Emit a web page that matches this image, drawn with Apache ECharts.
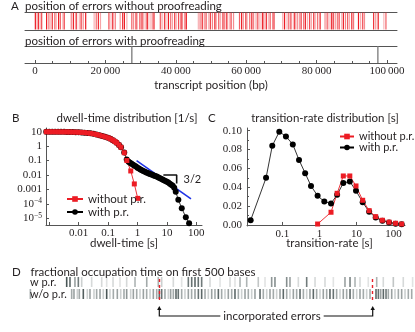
<!DOCTYPE html>
<html><head><meta charset="utf-8">
<script src="https://cdn.jsdelivr.net/npm/echarts@6/dist/echarts.min.js"></script>
<style>html,body{margin:0;padding:0;background:#fff}#c{width:415px;height:332px}</style>
</head><body><div id="c"></div>
<script>
// ---------- DATA ----------
// Panel A: error positions (kbp) without proofreading, and their shade (opacity)
const errPosWithout = [0.1,0.6,1.0,1.5,1.9,3.3,3.9,4.3,4.9,5.6,6.0,6.7,7.2,7.9,8.3,10.3,10.9,11.5,11.8,12.6,13.1,13.7,14.4,16.8,17.4,18.0,18.6,21.0,21.6,22.1,22.8,24.2,24.9,25.4,26.1,27.5,28.0,28.7,29.1,29.8,30.4,30.9,31.6,32.0,32.7,33.3,33.8,35.6,36.1,36.8,37.2,37.9,38.5,39.0,39.7,40.2,40.8,41.5,41.9,42.6,43.0,46.4,46.9,47.5,48.1,48.6,49.3,49.8,50.4,51.1,51.5,52.2,52.7,53.4,53.9,54.5,55.2,55.7,56.4,58.1,58.7,59.2,59.9,60.3,61.0,61.6,62.1,62.8,63.3,63.9,64.6,65.0,65.7,66.3,66.8,67.5,67.9,70.4,70.9,71.6,72.1,72.7,73.4,73.8,74.5,75.1,75.6,76.3,76.8,77.4,78.0,78.5,79.2,79.7,80.3,81.0,82.4,83.0,83.5,84.2,84.7,85.3,85.9,86.4,87.1,87.6,88.2,88.8,89.3,90.0,90.5,91.9,92.5,93.1,93.6,96.2,96.8,97.5,99.1,99.7];
const errShadeWithout = [1,.45,.9,.3,.8,1,.5,.35,.95,.6,.4,1,.7,.3,.85,.55,1,.4,.75,.3,.9,.5,1,.35,.65,.95,.4,.8,.3,1,.6,.45,.9,1,.35,.7,.5,.95,.3,.8,1,.4,.65,.9,.3,.55,1,.75,.4,.85,.35,1,.6,.45,.9,.3,.8,1,.5,.7,.95,.35,.6,1,.45,.8,.3,.9,.55,1,.4,.75,.35,.95,.6,1,.3,.85,.5,.7,1,.45,.9,.3,.65,1,.55,.4,.8,.35,.95,.6,1,.3,.75,.5,.9,.4,1,.35,.7,.85,.3,1,.55,.45,.9,.6,1,.35,.8,.4,.95,.3,.65,1,.5,.75,.35,.9,1,.45,.6,.85,.3,1,.55,.7,.4,.95,.6,1,.35,.8,.5,.9,.45,1,.3,.7];
const errPosWith = [27.5, 97.4];
const aMajorTicks = [0,20000,40000,60000,80000,100000];
const aMinorTicks = [5000,10000,15000,25000,30000,35000,45000,50000,55000,65000,70000,75000,85000,90000,95000];

// Panel B: dwell-time distribution
const dwellRedX = [0.00079,0.001,0.00126,0.00158,0.002,0.0025,0.0032,0.004,0.005,0.0063,0.0079,0.01,0.0126,0.0158,0.02,0.025,0.032,0.04,0.05,0.063,0.079,0.1,0.12,0.145,0.17,0.195,0.235,0.275,0.355,0.435,0.59,0.78,1.02];
const dwellRedY = [9.8,9.8,9.8,9.8,9.7,9.7,9.7,9.6,9.5,9.4,9.3,9.1,8.9,8.6,8.2,7.7,7.1,6.4,5.7,5.0,4.4,3.8,3.2,2.6,2.1,1.7,1.2,0.83,0.35,0.1,0.019,0.0024,0.00024];
const dwellBlackX = [0.00079,0.001,0.00126,0.00158,0.002,0.0025,0.0032,0.004,0.005,0.0063,0.0079,0.01,0.0126,0.0158,0.02,0.025,0.032,0.04,0.05,0.063,0.079,0.1,0.12,0.145,0.17,0.195,0.235,0.275,0.355,0.43,0.5,0.56,0.63,0.71,0.79,0.89,1,1.12,1.26,1.41,1.58,1.78,2.0,2.24,2.5,2.8,3.16,3.55,4.0,4.5,5.0,5.6,6.3,7.1,7.9,8.9,10,11.2,12.6,14.1,15.8,17.8,20,24.5,32,44,57];
const dwellBlackY = [9.8,9.8,9.8,9.8,9.7,9.7,9.7,9.6,9.5,9.4,9.3,9.1,8.9,8.6,8.2,7.7,7.1,6.4,5.7,5.0,4.4,3.8,3.2,2.6,2.1,1.7,1.2,0.83,0.36,0.12,0.083,0.07,0.06,0.051,0.044,0.038,0.032,0.028,0.024,0.021,0.0186,0.0166,0.0148,0.0135,0.0123,0.0112,0.0102,0.0093,0.0085,0.0077,0.0069,0.0062,0.0055,0.0049,0.0044,0.0039,0.0034,0.003,0.0025,0.0021,0.0018,0.0013,0.0007,0.00019,0.00005,0.000012,0.0000045];
const fitLineX = [0.93, 66];
const fitLineY = [0.1, 0.00022];
const slopeMarkX = [7.6, 21.5, 21.5];
const slopeMarkY = [0.01, 0.01, 0.0026];

// Panel C: transition-rate distribution
const rateBlackX = [0.0138,0.036,0.053,0.082,0.124,0.19,0.28,0.41,0.59,0.89,1.35,2.05,3.0,4.4,6.6,9.7,14.7,22,33,50,76,114,166];
const rateBlackY = [0.005,0.05,0.084,0.099,0.094,0.0855,0.069,0.055,0.0414,0.031,0.0248,0.0228,0.032,0.0445,0.046,0.0364,0.024,0.014,0.0078,0.0045,0.0025,0.0014,0.0008];
const rateRedX = [0.89,2.05,3.0,4.4,6.6,9.7,14.7,22,33,50,76,114,166];
const rateRedY = [0.001,0.0135,0.0336,0.052,0.052,0.0414,0.0262,0.0152,0.0088,0.005,0.003,0.0018,0.001];
const rateYTicks = [0,0.02,0.04,0.06,0.08,0.10];
const rateYMinor = [0.01,0.03,0.05,0.07,0.09];

// Panel D: occupation stripes [base, intensity]
const rows = ['w/o p.r.', 'w p.r.'];
const stripesWith = [[47.9,0.9],[52.2,0.8],[58.7,0.5],[63.1,0.7],[67.5,0.25],[80.5,0.2],[93.6,0.2],[100.1,0.15],[108.4,0.2],[117.5,0.15],[126.2,0.2],[137.1,0.4],[152.4,0.45],[167.5,0.4],[171.9,0.25],[187.1,0.2],[198.0,0.15],[206.7,0.7],[211.1,0.75],[215.4,0.8],[219.7,0.75],[224.1,0.7],[235.0,0.2],[248.1,0.15],[261.1,0.2],[267.6,0.15],[274.2,0.4],[282.9,0.4],[298.0,0.3],[306.8,0.15],[315.5,0.55],[319.8,0.6],[335.1,0.6],[339.4,0.5],[350.3,0.2],[361.2,0.7],[372.1,0.2],[385.1,0.2],[396.0,0.15],[411.2,0.5],[417.8,0.65],[424.3,0.4],[430.8,0.2],[441.6,0.15],[452.6,0.4],[461.2,0.2],[474.3,0.3],[487.3,0.2],[499.5,0.15]];
const stripesWithout = [[0.5,0.45],[54.4,0.45],[57.4,0.5],[61.8,0.25],[64.4,0.45],[69.6,0.85],[74.8,0.25],[78.3,0.5],[83.5,0.25],[87.0,0.45],[91.4,0.5],[95.7,0.25],[100.1,0.9],[104.4,0.25],[108.8,0.45],[114.0,0.5],[118.4,0.25],[122.7,0.45],[126.2,0.55],[131.4,0.25],[134.9,0.5],[139.3,0.45],[143.6,0.25],[148.0,0.5],[152.3,0.45],[156.7,0.25],[161.0,0.5],[165.4,0.45],[168.8,0.8],[171.9,0.75],[176.2,0.45],[180.6,0.25],[183.6,0.5],[187.1,0.45],[190.6,0.8],[193.6,0.75],[198.0,0.45],[202.3,0.25],[206.7,0.5],[211.0,0.45],[215.4,0.5],[219.8,0.75],[224.1,0.8],[228.5,0.45],[232.8,0.25],[237.2,0.5],[241.5,0.45],[245.9,0.8],[250.2,0.45],[254.6,0.25],[258.9,0.5],[263.3,0.45],[267.6,0.8],[272.0,0.45],[276.3,0.25],[280.7,0.5],[285.0,0.45],[289.4,0.25],[293.7,0.5],[300.3,0.8],[304.6,0.45],[309.0,0.25],[313.3,0.5],[317.7,0.45],[322.0,0.25],[326.4,0.5],[330.7,0.8],[335.1,0.45],[339.4,0.25],[343.8,0.5],[348.1,0.45],[352.5,0.8],[356.9,0.45],[361.2,0.25],[365.5,0.5],[369.9,0.8],[374.2,0.45],[378.6,0.25],[382.9,0.5],[387.3,0.45],[391.6,0.8],[396.0,0.75],[400.3,0.45],[404.7,0.25],[409.0,0.5],[413.4,0.45],[417.8,0.8],[422.1,0.45],[426.5,0.25],[430.8,0.5],[435.2,0.45],[439.5,0.25],[443.9,0.45],[451.7,0.8],[454.8,0.75],[457.8,0.5],[461.3,0.8],[464.8,0.7],[467.8,0.45],[472.2,0.5],[476.5,0.25],[480.9,0.45],[485.2,0.5],[489.6,0.25],[493.9,0.45],[498.3,0.45]];
const incorporatedErrors = [168.8, 447.4];

// ---------- CHART ----------
const SANS = 'Lato, "Open Sans", sans-serif';
const SERIF = '"Liberation Serif", "DejaVu Serif", serif';
const INK = '#231f20';
const AXC = '#555';
const RED = '#ec1c24';
const zip = (a, b) => a.map((v, i) => [v, b[i]]);

const chart = echarts.init(document.getElementById('c'), null, {renderer: 'canvas'});

function T(text, x, y, align, size, extra) {
  return {type: 'text', silent: true, z: 100,
    style: Object.assign({text, x, y, fill: INK, font: (size || 11.5) + 'px ' + SANS,
      textAlign: align || 'left', textVerticalAlign: 'middle', align: align || 'left', verticalAlign: 'middle'}, extra || {})};
}
const lineOnly = (grid, pos, min, max) => ({gridIndex: grid, type: 'value', min, max, position: pos,
  axisLine: {show: true, lineStyle: {color: AXC, width: 1}}, axisTick: {show: false}, axisLabel: {show: false}, splitLine: {show: false}});
const AMIN = -2841, AMAX = 102841;
const logFmt = v => { const e = Math.round(Math.log10(v));
  if (e >= -3) return ['0.001','0.01','0.1','1','10','100'][e + 3];
  return '10{s|\u2212' + (-e) + '}'; };
const stripeColor = p => 'rgba(28,44,44,' + Math.min(1, p.value[2] * 1.12) + ')';

const graphics = [
  T('A', 11, 6.5), T('position of errors without proofreading', 25, 6),
  T('position of errors with proofreading', 25, 41),
  T('transcript position (bp)', 211, 85, 'center'),
  T('B', 12, 118), T('dwell-time distribution [1/s]', 127, 118, 'center'),
  T('C', 208, 118), T('transition-rate distribution [s]', 325, 118, 'center'),
  T('dwell-time [s]', 124, 243.5, 'center'),
  T('transition-rate [s]', 329.5, 243.5, 'center'),
  T('3/2', 183.5, 179, 'left', 11),
  T('D', 12, 272.5), T('fractional occupation time on first 500 bases', 30.5, 272.5)
];

const option = {
  animation: false,
  textStyle: {fontFamily: SANS},
  grid: [
    {left: 25, top: 12, width: 372, height: 18},
    {left: 25, top: 46, width: 372, height: 17},
    {left: 46, top: 128, width: 156, height: 97},
    {left: 247, top: 128, width: 158, height: 98},
    {left: 30, top: 276, width: 383, height: 24}
  ],
  xAxis: [
    lineOnly(0, 'bottom', AMIN, AMAX),
    lineOnly(0, 'top', AMIN, AMAX),
    {gridIndex: 1, type: 'value', min: AMIN, max: AMAX, position: 'bottom',
      axisLine: {lineStyle: {color: AXC}}, splitLine: {show: false},
      axisTick: {customValues: aMajorTicks, inside: true, length: 3, lineStyle: {color: AXC}},
      axisLabel: {customValues: aMajorTicks, margin: 3, fontFamily: SERIF, fontSize: 11, color: INK,
        formatter: v => v === 0 ? '0' : (v / 1000) + '\u2009000'}},
    {gridIndex: 1, type: 'value', min: AMIN, max: AMAX, position: 'bottom',
      axisLine: {show: false}, splitLine: {show: false}, axisLabel: {show: false},
      axisTick: {customValues: aMinorTicks, inside: true, length: 2, lineStyle: {color: AXC}}},
    lineOnly(1, 'top', AMIN, AMAX),
    {gridIndex: 2, type: 'log', logBase: 10, min: 0.000773, max: 156.3, position: 'bottom',
      axisLine: {lineStyle: {color: AXC}}, splitLine: {show: false},
      axisTick: {inside: true, length: 3, lineStyle: {color: AXC}},
      axisLabel: {margin: 3, fontFamily: SERIF, fontSize: 11, color: INK, showMinLabel: false, showMaxLabel: false,
        formatter: v => { const e = Math.round(Math.log10(v)); return e <= -3 ? '' : logFmt(v); }}},
    {gridIndex: 3, type: 'log', logBase: 10, min: 0.011, max: 204.6, position: 'bottom',
      axisLine: {lineStyle: {color: AXC}}, splitLine: {show: false},
      axisTick: {inside: true, length: 3, lineStyle: {color: AXC}},
      axisLabel: {margin: 3, fontFamily: SERIF, fontSize: 11, color: INK, showMinLabel: false, showMaxLabel: false,
        formatter: logFmt}},
    {gridIndex: 4, type: 'value', min: 0, max: 500, show: false}
  ],
  yAxis: [
    {gridIndex: 0, type: 'value', min: 0, max: 1, show: false},
    {gridIndex: 1, type: 'value', min: 0, max: 1, show: false},
    {gridIndex: 2, type: 'log', logBase: 10, min: 0.00000342, max: 18.0,
      axisLine: {show: true, lineStyle: {color: AXC}}, splitLine: {show: false},
      axisTick: {show: true, inside: true, length: 3, lineStyle: {color: AXC}},
      axisLabel: {margin: 4, fontFamily: SERIF, fontSize: 11, color: INK, showMinLabel: false, showMaxLabel: false,
        formatter: logFmt, rich: {s: {fontFamily: SERIF, fontSize: 7.5, verticalAlign: 'top', padding: [0, 0, 5, 0]}}}},
    {gridIndex: 3, type: 'value', min: -0.0011, max: 0.1029,
      axisLine: {show: true, lineStyle: {color: AXC}}, splitLine: {show: false},
      axisTick: {show: true, customValues: rateYTicks, inside: true, length: 3, lineStyle: {color: AXC}},
      axisLabel: {customValues: rateYTicks, margin: 5, fontFamily: SERIF, fontSize: 11, color: INK,
        formatter: v => v.toFixed(2)}},
    {gridIndex: 3, type: 'value', min: -0.0011, max: 0.1029, position: 'left',
      axisLine: {show: false}, splitLine: {show: false}, axisLabel: {show: false},
      axisTick: {show: true, customValues: rateYMinor, inside: true, length: 2, lineStyle: {color: AXC}}},
    {gridIndex: 4, type: 'category', data: rows, z: 10,
      axisLine: {show: false}, axisTick: {show: false}, splitLine: {show: false},
      axisLabel: {interval: 0, inside: true, margin: 0, fontFamily: SANS, fontSize: 11, color: INK, align: 'left'}}
  ],
  legend: [
    {left: 61, top: 188, orient: 'vertical', itemWidth: 16, itemHeight: 7, itemGap: 1,
      data: ['without p.r.', 'with p.r.'], textStyle: {fontFamily: SANS, fontSize: 11.5, color: INK}},
    {left: 334, top: 126, orient: 'vertical', itemWidth: 14, itemHeight: 7, itemGap: 0,
      data: ['without p.r.', 'with p.r.'], textStyle: {fontFamily: SANS, fontSize: 11, color: INK}}
  ],
  series: [
    {type: 'scatter', xAxisIndex: 0, yAxisIndex: 0, silent: true, symbol: 'rect', symbolSize: [1.2, 17],
      itemStyle: {color: RED},
      data: errPosWithout.map((p, i) => ({value: [p * 1000, 0.5], itemStyle: {opacity: errShadeWithout[i]}}))},
    {type: 'scatter', xAxisIndex: 2, yAxisIndex: 1, silent: true, symbol: 'rect', symbolSize: [1.6, 17],
      itemStyle: {color: '#777'}, data: errPosWith.map(p => [p * 1000, 0.5])},
    {name: 'with p.r.', type: 'line', xAxisIndex: 5, yAxisIndex: 2, data: zip(dwellBlackX, dwellBlackY),
      symbol: 'circle', symbolSize: 6, itemStyle: {color: '#000'}, lineStyle: {color: '#000', width: 0.8}},
    {name: 'without p.r.', type: 'line', xAxisIndex: 5, yAxisIndex: 2, data: zip(dwellRedX, dwellRedY),
      symbol: 'rect', symbolSize: 5, itemStyle: {color: RED}, lineStyle: {color: RED, width: 0.9}},
    {type: 'line', xAxisIndex: 5, yAxisIndex: 2, data: zip(fitLineX, fitLineY), symbol: 'none', silent: true,
      lineStyle: {color: '#1f33e6', width: 1.6}},
    {type: 'line', xAxisIndex: 5, yAxisIndex: 2, data: zip(slopeMarkX, slopeMarkY), symbol: 'none', silent: true,
      lineStyle: {color: '#111', width: 1.6}},
    {name: 'with p.r.', type: 'line', xAxisIndex: 6, yAxisIndex: 3, data: zip(rateBlackX, rateBlackY),
      symbol: 'circle', symbolSize: 6, itemStyle: {color: '#000'}, lineStyle: {color: '#000', width: 0.8}},
    {name: 'without p.r.', type: 'line', xAxisIndex: 6, yAxisIndex: 3, data: zip(rateRedX, rateRedY),
      symbol: 'rect', symbolSize: 5, itemStyle: {color: RED}, lineStyle: {color: RED, width: 0.9}},
    {type: 'scatter', xAxisIndex: 7, yAxisIndex: 5, silent: true, symbol: 'rect', symbolSize: [1.6, 10],
      itemStyle: {color: stripeColor},
      data: stripesWith.map(s => [s[0], rows[1], s[1]])},
    {type: 'scatter', xAxisIndex: 7, yAxisIndex: 5, silent: true, symbol: 'rect', symbolSize: [1.6, 10],
      itemStyle: {color: stripeColor},
      data: stripesWithout.map(s => [s[0], rows[0], s[1]]),
      markLine: {silent: true, symbol: 'none', label: {show: false},
        lineStyle: {color: '#e8202a', type: [3, 3], width: 1.4},
        data: incorporatedErrors.map(b => ({xAxis: b}))}}
  ],
  graphic: graphics
};
chart.setOption(option);

// bracket under the incorporated errors
const ex = incorporatedErrors.map(b => chart.convertToPixel({xAxisIndex: 7}, b));
const by = 316, ty = 307;
const bracket = [
  {type: 'polyline', silent: true, z: 90, shape: {points: [[ex[0], ty + 2], [ex[0], by], [ex[1], by], [ex[1], ty + 2]]},
    style: {stroke: '#111', lineWidth: 1.2, fill: null}},
  {type: 'polygon', silent: true, z: 90, shape: {points: [[ex[0] - 2.2, ty + 3], [ex[0] + 2.2, ty + 3], [ex[0], ty - 1]]}, style: {fill: '#111'}},
  {type: 'polygon', silent: true, z: 90, shape: {points: [[ex[1] - 2.2, ty + 3], [ex[1] + 2.2, ty + 3], [ex[1], ty - 1]]}, style: {fill: '#111'}},
  T('incorporated errors', (ex[0] + ex[1]) / 2 + 6, by, 'center', 11.5, {backgroundColor: '#fff', padding: [0, 3]})
];
chart.setOption({graphic: graphics.concat(bracket)});
</script>
</body></html>
